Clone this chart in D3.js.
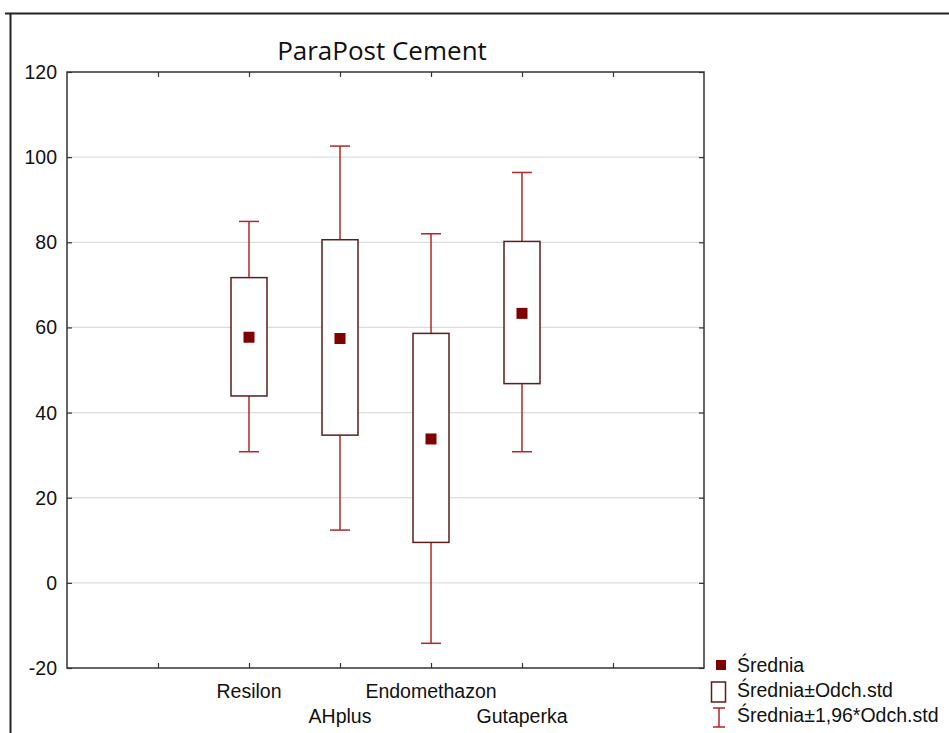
<!DOCTYPE html>
<html>
<head>
<meta charset="utf-8">
<script src="https://cdn.jsdelivr.net/npm/d3@7"></script>
<style>
  body { margin: 0; background: #fff; }
  svg text { font-family: "Liberation Sans", Arial, sans-serif; }
</style>
</head>
<body>
<div class="chart"></div>
<script>
// data
const categories = ["Resilon", "AHplus", "Endomethazon", "Gutaperka"]
const means = [57.7, 57.4, 33.8, 63.3]
const boxLow = [43.9, 34.7, 9.5, 46.8]
const boxHigh = [71.7, 80.6, 58.6, 80.2]
const whiskLow = [30.8, 12.4, -14.2, 30.8]
const whiskHigh = [84.9, 102.6, 82.0, 96.4]
const yTicks = [-20, 0, 20, 40, 60, 80, 100, 120]
const legendLabels = ["Średnia", "Średnia±Odch.std", "Średnia±1,96*Odch.std"]

const W = 949, H = 733
const margin = {left: 67, top: 72, right: 245, bottom: 65}
const w = W - margin.left - margin.right
const h = H - margin.top - margin.bottom
const fs = 19.5

const whiskColor = "#b02828"
const boxColor = "#5a1e1e"
const meanColor = "#800000"

const svg = d3.select(".chart").append("svg")
  .attr("width", W)
  .attr("height", H)

// outer frame (only top + left visible)
svg.append("path")
  .attr("d", `M5,13.5H${W}M10.5,13.5V${H}`)
  .attr("stroke", "#222")
  .attr("stroke-width", 2)
  .attr("fill", "none")

const x = d3.scaleLinear().domain([-2, 5]).range([0, w])
const y = d3.scaleLinear().domain([-20, 120]).range([h, 0])

const g = svg.append("g").attr("transform", `translate(${margin.left},${margin.top})`)

// grid
g.selectAll(".grid").data(yTicks.slice(1, -1)).join("line")
  .attr("class", "grid")
  .attr("x1", 0).attr("x2", w)
  .attr("y1", d => y(d)).attr("y2", d => y(d))
  .attr("stroke", "#dcdcdc")
  .attr("stroke-width", 1.3)

// axes
const xTickVals = [-1, 0, 1, 2, 3, 4]
g.append("g").attr("transform", `translate(0,${h})`)
  .call(d3.axisTop(x).tickValues(xTickVals).tickSize(5).tickFormat(""))
g.append("g")
  .call(d3.axisBottom(x).tickValues(xTickVals).tickSize(5).tickFormat(""))
g.append("g")
  .call(d3.axisRight(y).tickValues(yTicks).tickSize(5).tickFormat(""))
g.append("g").attr("transform", `translate(${w},0)`)
  .call(d3.axisLeft(y).tickValues(yTicks).tickSize(5).tickFormat(""))
g.selectAll(".domain").remove()
g.selectAll(".tick line").attr("stroke", "#333").attr("stroke-width", 1.2)

g.append("rect")
  .attr("width", w).attr("height", h)
  .attr("fill", "none")
  .attr("stroke", "#333")
  .attr("stroke-width", 1.5)

// y labels
g.selectAll(".ylab").data(yTicks).join("text")
  .attr("class", "ylab")
  .attr("x", -10)
  .attr("y", d => y(d))
  .attr("dy", "0.36em")
  .attr("text-anchor", "end")
  .attr("font-size", fs)
  .attr("fill", "#111")
  .text(d => d)

// category labels, staggered
g.selectAll(".xlab").data(categories).join("text")
  .attr("class", "xlab")
  .attr("x", (d, i) => x(i))
  .attr("y", (d, i) => h + (i % 2 === 0 ? 30 : 55))
  .attr("text-anchor", "middle")
  .attr("font-size", fs)
  .attr("fill", "#111")
  .text(d => d)

const boxW = 36, capW = 20, meanS = 11

// whiskers
const wk = g.selectAll(".whisk").data(categories).join("g").attr("class", "whisk")
wk.append("line")
  .attr("x1", (d, i) => x(i)).attr("x2", (d, i) => x(i))
  .attr("y1", (d, i) => y(whiskHigh[i])).attr("y2", (d, i) => y(whiskLow[i]))
wk.append("line")
  .attr("x1", (d, i) => x(i) - capW / 2).attr("x2", (d, i) => x(i) + capW / 2)
  .attr("y1", (d, i) => y(whiskHigh[i])).attr("y2", (d, i) => y(whiskHigh[i]))
wk.append("line")
  .attr("x1", (d, i) => x(i) - capW / 2).attr("x2", (d, i) => x(i) + capW / 2)
  .attr("y1", (d, i) => y(whiskLow[i])).attr("y2", (d, i) => y(whiskLow[i]))
wk.selectAll("line").attr("stroke", whiskColor).attr("stroke-width", 1.5)

// boxes
g.selectAll(".box").data(categories).join("rect")
  .attr("class", "box")
  .attr("x", (d, i) => x(i) - boxW / 2)
  .attr("width", boxW)
  .attr("y", (d, i) => y(boxHigh[i]))
  .attr("height", (d, i) => y(boxLow[i]) - y(boxHigh[i]))
  .attr("fill", "#fff")
  .attr("stroke", boxColor)
  .attr("stroke-width", 1.5)

// means
g.selectAll(".mean").data(categories).join("rect")
  .attr("class", "mean")
  .attr("x", (d, i) => x(i) - meanS / 2)
  .attr("y", (d, i) => y(means[i]) - meanS / 2)
  .attr("width", meanS).attr("height", meanS)
  .attr("fill", meanColor)

// title
svg.append("text")
  .attr("x", 382).attr("y", 60)
  .attr("text-anchor", "middle")
  .attr("font-size", 26)
  .style("font-family", "'Open Sans', sans-serif")
  .attr("fill", "#111")
  .text("ParaPost Cement")

// legend
const lg = svg.append("g").attr("transform", "translate(711,655)")
lg.append("rect").attr("x", 5).attr("y", 5).attr("width", 10).attr("height", 10).attr("fill", meanColor)
lg.append("rect").attr("x", 0.5).attr("y", 27).attr("width", 14).attr("height", 20)
  .attr("fill", "#fff").attr("stroke", boxColor).attr("stroke-width", 1.5)
lg.append("path").attr("d", "M2,53H14M8,53V72M2,72H14")
  .attr("stroke", whiskColor).attr("stroke-width", 1.5).attr("fill", "none")
lg.selectAll(".leg").data(legendLabels).join("text")
  .attr("class", "leg")
  .attr("x", 26)
  .attr("y", (d, i) => 17 + i * 25)
  .attr("font-size", fs)
  .attr("fill", "#111")
  .text(d => d)
</script>
</body>
</html>
